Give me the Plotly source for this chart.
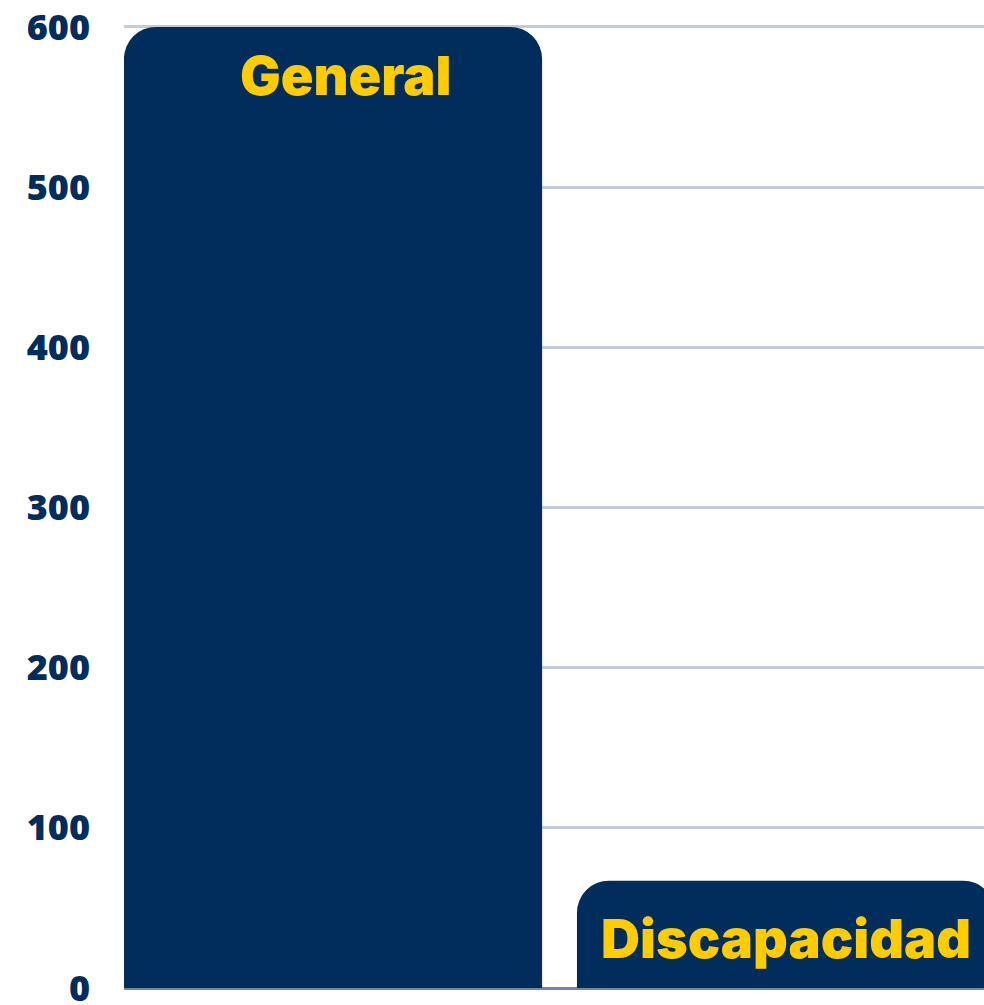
import plotly.graph_objects as go

categories = ["General", "Discapacidad"]
values = [600, 67]
tick_vals = [0, 100, 200, 300, 400, 500, 600]
tick_text = ["0", "100", "200", "300", "400", "500", "600"]

navy = "#002d5c"
yellow = "#ffcc00"
label_xshift = [13, 0]
label_yshift = [-14, -23]

fig = go.Figure()
fig.add_trace(go.Bar(
    x=[0, 1],
    y=values,
    width=0.923,
    marker=dict(color=navy, cornerradius=32, line=dict(width=0)),
    hoverinfo="skip",
))

for i, (c, v) in enumerate(zip(categories, values)):
    fig.add_annotation(
        x=i, y=v, text=c, showarrow=False,
        xanchor="center", yanchor="top",
        xshift=label_xshift[i], yshift=label_yshift[i],
        font=dict(family="Inter", size=54, color=yellow, weight=900),
    )

fig.update_layout(
    width=984, height=1005,
    margin=dict(l=124, r=0, t=25, b=17, autoexpand=False),
    paper_bgcolor="white", plot_bgcolor="white",
    showlegend=False,
    xaxis=dict(range=[-0.4614, 1.437], showticklabels=False, showgrid=False,
               zeroline=False, showline=False, fixedrange=True, automargin=False),
    yaxis=dict(range=[0, 601.2], tickvals=tick_vals, ticktext=tick_text,
               showgrid=True, gridcolor="#c2ccd9", gridwidth=3,
               zeroline=True, zerolinecolor="#7089a8", zerolinewidth=3,
               showline=False, ticks="", ticklabelstandoff=33,
               ticklabeloverflow="allow", automargin=False,
               layer="below traces",
               tickfont=dict(family="Open Sans", size=36, color=navy, weight=800)),
)

post = (
    "document.documentElement.style.overflow='hidden';"
    "document.body.style.margin='0';document.body.style.overflow='hidden';"
)
fig.write_html("out.html", config={"displayModeBar": False}, post_script=post)
